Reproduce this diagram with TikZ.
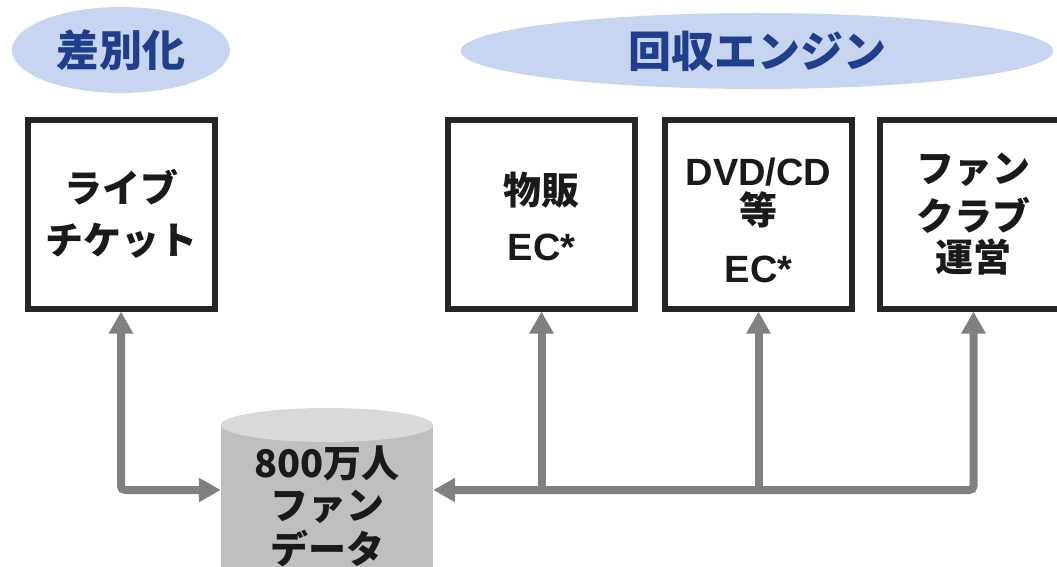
\documentclass[tikz,border=0pt]{standalone}
\usepackage{fontspec}
\setmainfont{Noto Sans CJK JP}
\newfontfamily\latinfont{Liberation Sans}
\usetikzlibrary{shapes.geometric,arrows.meta}

\definecolor{titlefill}{HTML}{C8D5F0}
\definecolor{titletext}{HTML}{1F3F8C}
\definecolor{boxline}{HTML}{262626}
\definecolor{ink}{HTML}{1A1A1A}
\definecolor{linkgray}{HTML}{808080}
\definecolor{dbside}{HTML}{BFBFBF}
\definecolor{dbtop}{HTML}{D9D9D9}

\newcommand\titlesize{\fontsize{43}{50}\selectfont}
\newcommand\bodysize{\fontsize{38}{46}\selectfont}

\begin{document}
\begin{tikzpicture}[x=1pt, y=-1pt,
    title/.style = {ellipse, inner sep=0, fill=titlefill, text=titletext, font=\titlesize\bfseries},
    box/.style = {draw=boxline, line width=6pt, fill=white, minimum width=187pt, minimum height=188pt},
    boxtext/.style = {align=center, text=ink, font=\bodysize\bfseries},
    link/.style = {draw=linkgray, line width=8pt, rounded corners=4pt, >={Triangle[length=22pt,width=23pt]}}]
    \useasboundingbox (0,0) rectangle (1057,567);

    % headings
    \node[title, minimum width=218pt, minimum height=86pt] (diff) at (121,50) {差別化};
    \node[title, minimum width=593pt, minimum height=76pt] (engine) at (757,51) {回収エンジン};

    % business boxes
    \node[box] (live) at (121,214.5) {};
    \node[box] (goods) at (541.5,214.5) {};
    \node[box] (dvd) at (758.5,214.5) {};
    \node[box] (club) at (973.5,214.5) {};

    \node[boxtext] (live-txt) at (121,214) {ライブ\\[6.5pt]チケット};
    \node[boxtext] (goods-txt) at (541.5,216) {物販\\[10pt]{\latinfont EC*}};
    \node[boxtext] (dvd-txt) at (758.5,220) {{\latinfont DVD/CD}\\[-7pt]等\\[12pt]{\latinfont EC*}};
    \node[boxtext] (club-txt) at (973.5,214.5) {ファン\\[2pt]クラブ\\[-5pt]運営};

    % fan database
    \fill[dbside] (221,425) rectangle (433,580);
    \fill[dbtop] (327,425) ellipse [x radius=106pt, y radius=17pt];
    \node[inner sep=0, minimum width=212pt, minimum height=2pt] (db) at (327,490) {};
    \node[boxtext] (db-txt) at (327,506) {800万人\\[-4pt]ファン\\[-2pt]データ};

    % links
    \draw[link,<->] (live.south) |- (db.west);
    \draw[link,<->] (db.east) -| (club.south);
    \draw[link,->] (goods.south |- db.east) -- (goods.south);
    \draw[link,->] (dvd.south |- db.east) -- (dvd.south);
\end{tikzpicture}
\end{document}
